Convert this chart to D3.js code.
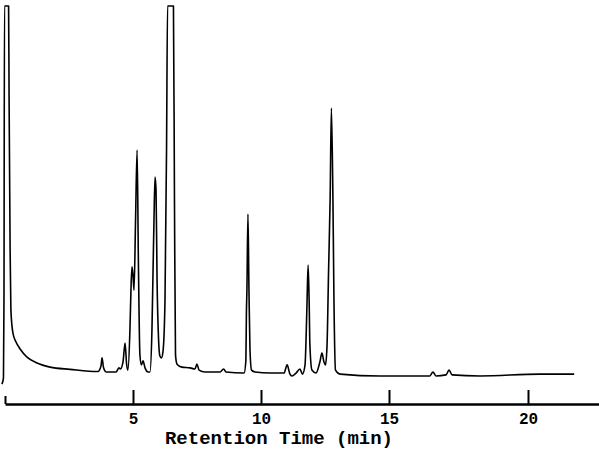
<!DOCTYPE html>
<html>
<head>
<meta charset="utf-8">
<script src="https://cdn.jsdelivr.net/npm/d3@7/dist/d3.min.js"></script>
<style>
  body { margin: 0; background: #fff; }
  svg { display: block; }
</style>
</head>
<body>
<svg id="chart" width="599" height="451"></svg>
<script>
// trace: time (min) and detector signal (% of full scale)
const times = [
  -0.12, -0.06, -0.04, -0.02, 0.14, 0.16, 0.2, 0.23, 0.31, 0.43, 0.59, 0.86, 1.25, 1.76, 2.54,
  3.63, 3.75, 3.79, 3.85, 3.95, 4.34, 4.45, 4.51, 4.61, 4.69, 4.75, 4.80, 4.88, 4.92, 4.96,
  5.0, 5.04, 5.10, 5.16, 5.21, 5.27, 5.33, 5.39, 5.47, 5.59, 5.66, 5.74, 5.78, 5.82, 5.86,
  5.90, 5.94, 6.0, 6.05, 6.11, 6.17, 6.25, 6.31, 6.35, 6.58, 6.62, 6.66, 6.72, 6.91, 7.23,
  7.42, 7.5, 7.58, 7.81, 8.40, 8.54, 8.63, 9.34, 9.41, 9.43, 9.45, 9.49, 9.53, 9.57, 9.63,
  9.77, 10.35, 10.9, 11.02, 11.13, 11.21, 11.37, 11.52, 11.62, 11.72, 11.78, 11.8, 11.84, 11.88, 11.91,
  11.99, 12.15, 12.3, 12.38, 12.46, 12.52, 12.58, 12.64, 12.7, 12.75, 12.81, 12.85, 12.91, 13.09, 14.65,
  15.0, 16.47, 16.58, 16.69, 17.05, 17.16, 17.27, 18.27, 20.43, 21.69
];
const signal = [
  -2.2, -0.5, 20.5, 100, 100, 74.6, 34, 17.8, 11.6, 9.2, 7.3, 5.1, 3.5, 2.4, 1.8,
  1.2, 2.7, 4.9, 2.2, 1.1, 1.1, 2.2, 1.9, 3.8, 8.9, 3.2, 1.6, 12.4, 23.2, 29.5,
  27.3, 23.2, 42.2, 61.1, 31.4, 5.7, 3.0, 4.1, 2.2, 1.1, 1.1, 12.4, 27.3, 42.2, 53.8,
  50.3, 25.9, 9.7, 5.4, 4.9, 6.5, 20.5, 61.1, 100, 100, 47.6, 5.7, 3.2, 2.4, 2.2,
  1.9, 3.2, 1.6, 1.1, 1.1, 1.9, 1.1, 0.8, 4.3, 17, 23.2, 43.8, 23.2, 7.0, 1.6,
  1.1, 0.8, 0.8, 3.0, 0.5, 0, 0.8, 1.9, 0.5, 3.0, 15.1, 20.5, 30, 20.5, 8.4,
  1.6, 0.8, 3.8, 6.2, 3.8, 3.0, 8.4, 28.6, 47.6, 72.4, 47.6, 20.5, 1.6, 0.5, 0,
  0, 0, 1.1, 0, 0.3, 1.6, 0.3, 0, 0.5, 0.5
];
const tickValues = [0, 5, 10, 15, 20];
const tickLabels = ["", "5", "10", "15", "20"];
const axisTitle = "Retention Time (min)";

let svg = d3.select("#chart");

// the scanned paper stretches a little after 15 min
let x = d3.scaleLinear()
    .domain([0, 15, 20, 22.6])
    .range([5, 389, 528, 599]);

let y = d3.scaleLinear()
    .domain([0, 100])
    .range([376, 6]);

let points = times.map((t, i) => [t, signal[i]]);

let line = d3.line()
    .x(d => x(d[0]))
    .y(d => y(d[1]))
    .curve(d3.curveMonotoneX);

svg.append("path")
    .datum(points)
    .attr("d", line)
    .attr("fill", "none")
    .attr("stroke", "#000")
    .attr("stroke-width", 1.6)
    .attr("stroke-linejoin", "round");

// time axis with ticks pointing up
let axis = d3.axisBottom(x)
    .tickValues(tickValues)
    .tickFormat((d, i) => tickLabels[i])
    .tickSizeInner(-14)
    .tickSizeOuter(0)
    .tickPadding(9);

let gx = svg.append("g")
    .attr("transform", "translate(0,404)")
    .call(axis);

gx.select(".domain").attr("stroke", "#000").attr("stroke-width", 2.5);
gx.selectAll(".tick line")
    .attr("stroke", "#000")
    .attr("stroke-width", 2)
    .attr("y2", d => d === 0 ? -8 : -14);
gx.selectAll(".tick text")
    .attr("fill", "#000")
    .attr("font-family", "'Liberation Mono', 'DejaVu Sans Mono', monospace")
    .attr("font-weight", "bold")
    .attr("font-size", 16);

svg.append("text")
    .attr("x", 279)
    .attr("y", 444)
    .attr("text-anchor", "middle")
    .attr("font-family", "'Liberation Mono', 'DejaVu Sans Mono', monospace")
    .attr("font-weight", "bold")
    .attr("font-size", 19)
    .text(axisTitle);
</script>
</body>
</html>
